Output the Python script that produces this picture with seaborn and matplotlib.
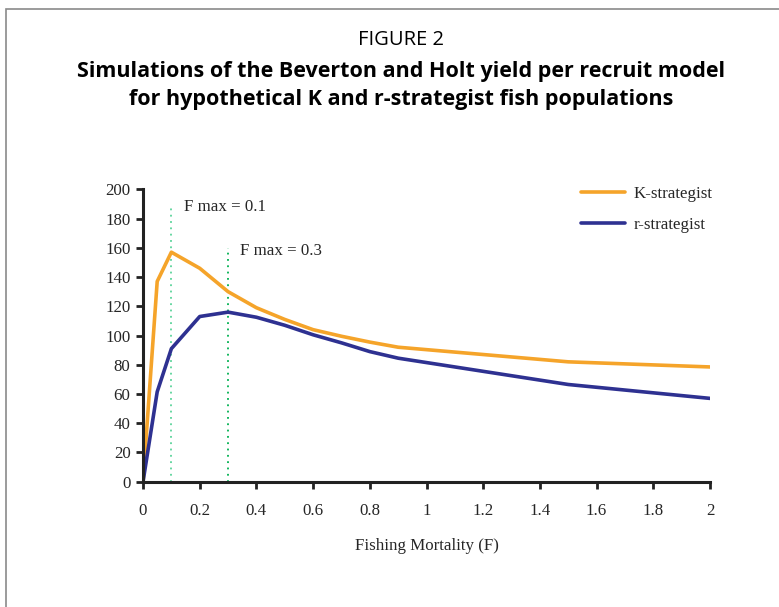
import matplotlib
matplotlib.use("Agg")
import matplotlib.pyplot as plt
import numpy as np
import pandas as pd
import seaborn as sns
from matplotlib.patches import Rectangle

# fishing mortality values and yield per recruit
fishing_mortality = [0, 0.05, 0.1, 0.2, 0.3, 0.4, 0.5, 0.6, 0.7, 0.8, 0.9, 1.5, 2.0]
k_strategist = [0, 137, 157, 146, 130, 119, 111, 104, 99.5, 95.5, 92, 82, 78.5]
r_strategist = [0, 61.5, 91, 113, 116, 112.5, 107, 100.5, 95, 89, 84.5, 66.5, 57]
series_names = ["K-strategist", "r-strategist"]
fmax_values = [0.1, 0.3]
fmax_heights = [189, 160]
x_ticks = [0, 0.2, 0.4, 0.6, 0.8, 1, 1.2, 1.4, 1.6, 1.8, 2]
x_tick_labels = ["0", "0.2", "0.4", "0.6", "0.8", "1", "1.2", "1.4", "1.6", "1.8", "2"]
y_ticks = list(range(0, 201, 20))

df = pd.DataFrame(
    {
        "F": fishing_mortality * 2,
        "yield": k_strategist + r_strategist,
        "series": [series_names[0]] * len(k_strategist) + [series_names[1]] * len(r_strategist),
    }
)

sns.set_theme(style="white")
serif = ["Liberation Serif", "DejaVu Serif"]
sans = ["Open Sans", "DejaVu Sans"]
fsize = 12.2
palette = {"K-strategist": "#f5a42a", "r-strategist": "#2e3191"}

fig = plt.figure(figsize=(7.79, 6.07), dpi=100)
ax = fig.add_axes([0.1836, 0.2064, 0.7278, 0.4817])

sns.lineplot(data=df, x="F", y="yield", hue="series", palette=palette,
             linewidth=2.6, ax=ax, legend=True)

# F max reference lines
for fx, h, col in zip(fmax_values, fmax_heights, ["#5ad39a", "#00b050"]):
    ax.plot([fx, fx], [0, h], color=col, linestyle=(0, (1, 2.5)), linewidth=1.3, zorder=1)
ax.text(0.143, 188, "F max = 0.1", family=serif, fontsize=fsize, va="center", ha="left")
ax.text(0.343, 158, "F max = 0.3", family=serif, fontsize=fsize, va="center", ha="left")

ax.set_xlim(0, 2)
ax.set_ylim(0, 200)
ax.set_xticks(x_ticks)
ax.set_xticklabels(x_tick_labels)
ax.set_yticks(y_ticks)
for lab in ax.get_xticklabels() + ax.get_yticklabels():
    lab.set_family(serif)
    lab.set_fontsize(fsize)
ax.tick_params(axis="x", direction="out", length=5, width=2, pad=10, color="#222222")
ax.tick_params(axis="y", direction="out", length=5, width=2, pad=4, color="#222222")
ax.tick_params(bottom=True, left=True)
for side in ["top", "right"]:
    ax.spines[side].set_visible(False)
for side in ["left", "bottom"]:
    ax.spines[side].set_color("#222222")
    ax.spines[side].set_linewidth(2.2)
ax.set_xlabel("Fishing Mortality (F)", family=serif, fontsize=fsize, labelpad=14)
ax.set_ylabel("")

leg = ax.legend(loc="upper left", bbox_to_anchor=(0.772, 1.01), frameon=False,
                borderpad=0, borderaxespad=0,
                handlelength=2.6, handletextpad=0.5, labelspacing=0.85,
                prop={"family": serif, "size": fsize})
for line in leg.get_lines():
    line.set_linewidth(2.6)

# titles
cx = 401 / 779
fig.text(cx, 1 - 40 / 607, "FIGURE 2", ha="center", va="center",
         family=sans, fontsize=14.5, color="black")
fig.text(cx, 1 - 71 / 607, "Simulations of the Beverton and Holt yield per recruit model",
         ha="center", va="center", family=sans, color="black",
         fontsize=15.5, fontweight="bold")
fig.text(cx, 1 - 99 / 607, "for hypothetical K and r-strategist fish populations",
         ha="center", va="center", family=sans, color="black",
         fontsize=15.5, fontweight="bold")

# frame around the figure
fig.patches.append(Rectangle((6 / 779, -0.1), 1.2, 1.1 - 9 / 607,
                             transform=fig.transFigure, fill=False,
                             edgecolor="#8a8a8a", linewidth=1.2))

fig.savefig("out.png", dpi=100)
